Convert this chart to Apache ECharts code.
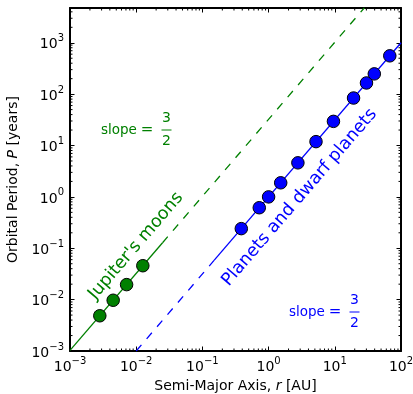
<!DOCTYPE html>
<html>
<head>
<meta charset="utf-8">
<script src="https://cdn.jsdelivr.net/npm/echarts@6/dist/echarts.min.js"></script>
<style>
  html, body { margin: 0; padding: 0; background: #fff; }
  #chart { width: 413px; height: 394px; }
</style>
</head>
<body>
<div id="chart"></div>
<script>
// Jupiter's moons (Io, Europa, Ganymede, Callisto)
const moonsA = [0.00282, 0.00449, 0.00716, 0.01259];
const moonsP = [0.00485, 0.00972, 0.0196, 0.0457];

// planets and dwarf planets
const planetsA = [0.387, 0.723, 1.0, 1.524, 2.77, 5.20, 9.54, 19.2, 30.1, 39.5, 67.7];
const planetsP = [0.241, 0.615, 1.0, 1.88, 4.60, 11.9, 29.5, 84.0, 165, 248, 557];

// slope 3/2 guide lines (end points)
const moonsFitSolidA = [0.001, 0.025];
const moonsFitSolidP = [0.00103, 0.128];
const moonsFitDashA = [0.025, 28];
const moonsFitDashP = [0.128, 4800];
const planetsFitSolidA = [0.15, 100];
const planetsFitSolidP = [0.058, 1000];
const planetsFitDashA = [0.01, 0.15];
const planetsFitDashP = [0.001, 0.058];

const xRange = [0.001, 100];
const yRange = [0.001, 4750];
const minorSteps = [2, 3, 4, 5, 6, 7, 8, 9];

const GREEN = '#008000';
const BLUE = '#0000ff';
const FONT = '"DejaVu Sans", sans-serif';

const zip = (a, b) => a.map((v, i) => [v, b[i]]);

function minorTicks(lo, hi) {
  const out = [];
  for (let d = lo; d < hi; d *= 10) {
    minorSteps.forEach(m => { if (d * m < hi) out.push(d * m); });
  }
  return out;
}
const xMinor = minorTicks(xRange[0], xRange[1]);
const yMinor = minorTicks(yRange[0], yRange[1]);

function powLabel(value) {
  const e = Math.round(Math.log10(value));
  if (Math.abs(Math.log10(value) - e) > 1e-6) return '';
  const exp = e < 0 ? '\u2212' + (-e) : String(e);
  return '{b|10}{s|' + exp + '}';
}

const labelRich = {
  b: { fontSize: 14, fontFamily: FONT, color: '#000', lineHeight: 18, verticalAlign: 'bottom' },
  s: { fontSize: 10, fontFamily: FONT, color: '#000', lineHeight: 10, verticalAlign: 'top' }
};

const frameLine = { show: true, onZero: false, lineStyle: { color: '#000', width: 2 } };
const majorTick = { show: true, inside: true, length: 4.5, lineStyle: { color: '#000', width: 1 } };

function baseAxis(range, extra) {
  return Object.assign({
    type: 'log',
    logBase: 10,
    min: range[0],
    max: range[1],
    axisLine: frameLine,
    axisTick: majorTick,
    splitLine: { show: false },
    minorTick: { show: false },
    minorSplitLine: { show: false }
  }, extra);
}

function slopeLabel(x, y, color) {
  return {
    type: 'group',
    x: x,
    y: y,
    silent: true,
    children: [
      { type: 'text', x: 0, y: 0, style: { text: 'slope', fill: color, font: '13.5px ' + FONT, align: 'left', verticalAlign: 'middle' } },
      { type: 'text', x: 46, y: 0, style: { text: '=', fill: color, font: '15px ' + FONT, align: 'center', verticalAlign: 'middle' } },
      { type: 'text', x: 65.5, y: -11.5, style: { text: '3', fill: color, font: '14px ' + FONT, align: 'center', verticalAlign: 'middle' } },
      { type: 'line', shape: { x1: 60.5, y1: 0, x2: 70.5, y2: 0 }, style: { stroke: color, lineWidth: 1 } },
      { type: 'text', x: 65.5, y: 11.5, style: { text: '2', fill: color, font: '14px ' + FONT, align: 'center', verticalAlign: 'middle' } }
    ]
  };
}

const chart = echarts.init(document.getElementById('chart'), null, { renderer: 'canvas' });

const angle = 49.3 * Math.PI / 180;

const option = {
  animation: false,
  backgroundColor: '#fff',
  grid: { left: 70, right: 12, top: 8, bottom: 43, containLabel: false, outerBoundsMode: 'none' },
  xAxis: [
    baseAxis(xRange, {
      position: 'bottom',
      name: 'Semi-Major Axis, {i|r} [AU]',
      nameLocation: 'middle',
      nameGap: 26,
      nameTextStyle: {
        fontSize: 14, fontFamily: FONT, color: '#000',
        rich: { i: { fontSize: 14, fontFamily: FONT, fontStyle: 'italic', color: '#000' } }
      },
      axisLabel: { margin: 5, formatter: powLabel, rich: labelRich, showMinLabel: true, showMaxLabel: true }
    }),
    baseAxis(xRange, { position: 'top', axisLabel: { show: false } })
  ],
  yAxis: [
    baseAxis(yRange, {
      position: 'left',
      name: 'Orbital Period, {i|P} [years]',
      nameLocation: 'middle',
      nameGap: 43,
      nameTextStyle: {
        fontSize: 14, fontFamily: FONT, color: '#000',
        rich: { i: { fontSize: 14, fontFamily: FONT, fontStyle: 'italic', color: '#000' } }
      },
      axisLabel: { margin: 6, formatter: powLabel, rich: labelRich, showMinLabel: true }
    }),
    baseAxis(yRange, { position: 'right', axisLabel: { show: false } })
  ],
  series: [
    {
      type: 'custom',
      silent: true,
      clip: false,
      data: xMinor.map(v => [v, yRange[0]]),
      renderItem: (params, api) => {
        const cs = params.coordSys;
        const px = api.coord([api.value(0), api.value(1)])[0];
        const st = { stroke: '#000', lineWidth: 1 };
        return {
          type: 'group',
          children: [
            { type: 'line', shape: { x1: px, y1: cs.y + cs.height, x2: px, y2: cs.y + cs.height - 2.5 }, style: st },
            { type: 'line', shape: { x1: px, y1: cs.y, x2: px, y2: cs.y + 2.5 }, style: st }
          ]
        };
      }
    },
    {
      type: 'custom',
      silent: true,
      clip: false,
      data: yMinor.map(v => [xRange[0], v]),
      renderItem: (params, api) => {
        const cs = params.coordSys;
        const py = api.coord([api.value(0), api.value(1)])[1];
        const st = { stroke: '#000', lineWidth: 1 };
        return {
          type: 'group',
          children: [
            { type: 'line', shape: { x1: cs.x, y1: py, x2: cs.x + 2.5, y2: py }, style: st },
            { type: 'line', shape: { x1: cs.x + cs.width, y1: py, x2: cs.x + cs.width - 2.5, y2: py }, style: st }
          ]
        };
      }
    },
    {
      type: 'line', data: zip(moonsFitSolidA, moonsFitSolidP), showSymbol: false, silent: true,
      lineStyle: { color: GREEN, width: 1.3 }
    },
    {
      type: 'line', data: zip(moonsFitDashA, moonsFitDashP), showSymbol: false, silent: true,
      lineStyle: { color: GREEN, width: 1.3, type: [8, 8] }
    },
    {
      type: 'line', data: zip(planetsFitSolidA, planetsFitSolidP), showSymbol: false, silent: true,
      lineStyle: { color: BLUE, width: 1.3 }
    },
    {
      type: 'line', data: zip(planetsFitDashA, planetsFitDashP), showSymbol: false, silent: true,
      lineStyle: { color: BLUE, width: 1.3, type: [8, 8] }
    },
    {
      type: 'scatter', data: zip(moonsA, moonsP), symbol: 'circle', symbolSize: 12.5, z: 5,
      itemStyle: { color: GREEN, borderColor: '#000', borderWidth: 1, opacity: 1 }
    },
    {
      type: 'scatter', data: zip(planetsA, planetsP), symbol: 'circle', symbolSize: 12.5, z: 5,
      itemStyle: { color: BLUE, borderColor: '#000', borderWidth: 1, opacity: 1 }
    }
  ],
  graphic: [
    {
      type: 'text', x: 136, y: 246, rotation: angle, silent: true,
      style: { text: "Jupiter's moons", fill: GREEN, font: '17.5px ' + FONT, align: 'center', verticalAlign: 'middle' }
    },
    {
      type: 'text', x: 299.5, y: 197.5, rotation: angle, silent: true,
      style: { text: 'Planets and dwarf planets', fill: BLUE, font: '17.5px ' + FONT, align: 'center', verticalAlign: 'middle' }
    },
    slopeLabel(101, 130, GREEN),
    slopeLabel(289, 312, BLUE)
  ]
};

chart.setOption(option);
window.addEventListener('resize', () => chart.resize());
</script>
</body>
</html>
